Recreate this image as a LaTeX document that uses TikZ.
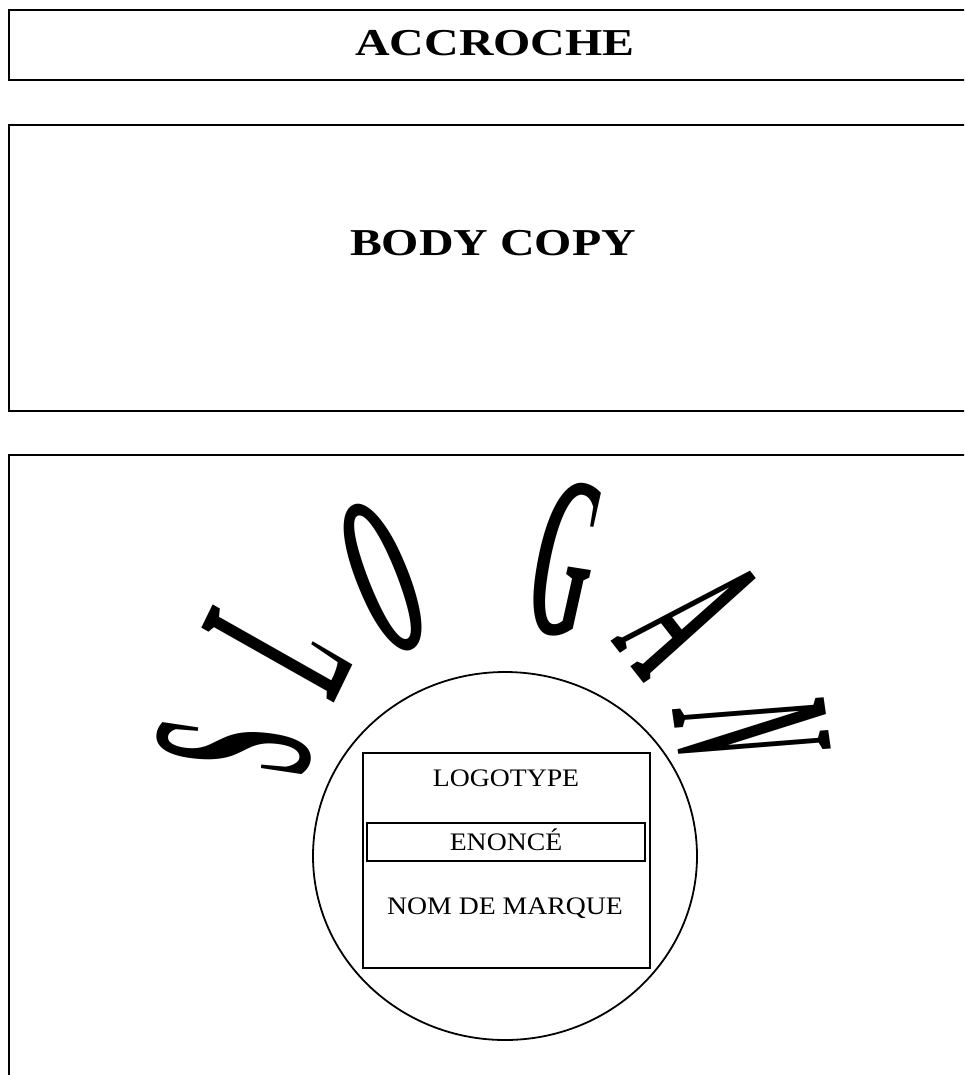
\documentclass[tikz,border=0pt]{standalone}
\usepackage{fontspec}
\setmainfont{Liberation Serif}
\tikzset{
  frame/.style={line width=1pt},
  bigtext/.style={inner sep=0pt, anchor=base, xscale=1.26,
    font=\fontsize{19}{19}\selectfont\bfseries},
  smalltext/.style={inner sep=0pt, anchor=base, xscale=1.1,
    font=\fontsize{12.6}{12.6}\selectfont},
  arcletter/.style={inner sep=0pt, transform shape, yscale=2.9,
    font=\fontsize{40}{40}\selectfont\bfseries\itshape},
}
\begin{document}
\begin{tikzpicture}[x=0.5pt,y=-0.5pt]
  \useasboundingbox (0,0) rectangle (964,1075);
  \clip (0,0) rectangle (964,1075);
  \draw[frame] (9,10) rectangle (975,80);
  \draw[frame] (9,125) rectangle (975,411);
  \draw[frame] (9,455) rectangle (975,1090);
  \node[bigtext] (accroche) at (495,56) {ACCROCHE};
  \node[bigtext] (bodycopy) at (493,256) {BODY COPY};
  \draw[line width=0.9pt] (505,856) ellipse (192 and 184);
  \draw[line width=0.75pt] (363,753) rectangle (650,968);
  \draw[frame] (367,823) rectangle (645,861);
  \node[smalltext] (logotype) at (506,786) {LOGOTYPE};
  \node[smalltext] (enonce) at (506,850) {ENONCÉ};
  \node[smalltext] (nommarque) at (505,914) {NOM DE MARQUE};
  \node[rotate=85, arcletter] (letterS) at (234,748) {S};
  \node[rotate=64, arcletter] (letterL) at (277,647) {L};
  \node[rotate=25, arcletter] (letterO) at (383,578) {O};
  \node[rotate=-9, arcletter] (letterG) at (565,559) {G};
  \node[rotate=-52, arcletter] (letterA) at (690,618) {A};
  \node[rotate=-82, arcletter] (letterN) at (752,729) {N};
\end{tikzpicture}
\end{document}
